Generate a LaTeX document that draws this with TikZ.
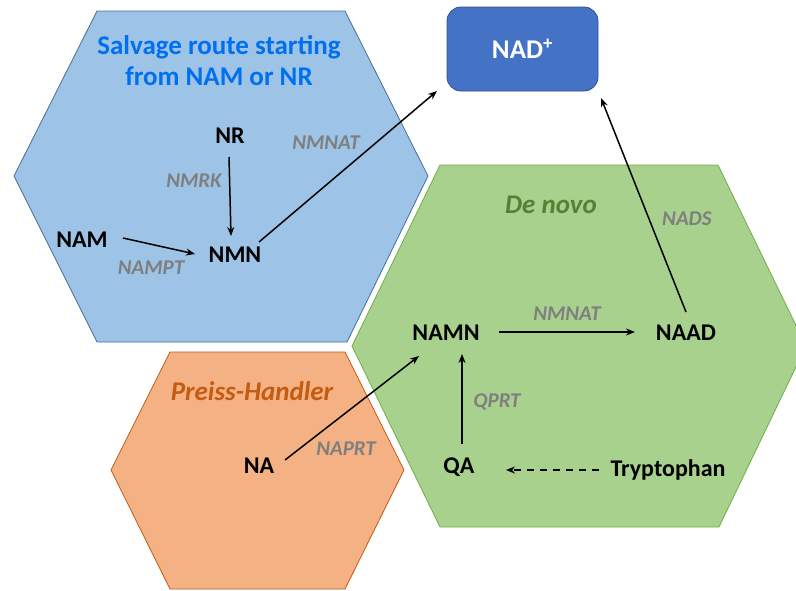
\documentclass[tikz,border=0pt]{standalone}
\usepackage{fontspec}
\setmainfont{Carlito}
\usetikzlibrary{arrows.meta}
\definecolor{bluefill}{HTML}{9DC3E6}
\definecolor{bluedraw}{HTML}{41719C}
\definecolor{greenfill}{HTML}{A9D18E}
\definecolor{greendraw}{HTML}{70AD47}
\definecolor{orangefill}{HTML}{F4B183}
\definecolor{orangedraw}{HTML}{C55A11}
\definecolor{nadfill}{HTML}{4472C4}
\definecolor{naddraw}{HTML}{2F528F}
\definecolor{titleblue}{HTML}{0070F0}
\definecolor{titlegreen}{HTML}{548235}
\definecolor{titleorange}{HTML}{C55A11}
\definecolor{enzgray}{HTML}{7F7F7F}
\begin{document}
\begin{tikzpicture}[x=1pt,y=-1pt,
  mol/.style={font=\fontsize{24}{26}\selectfont\bfseries, text=black, inner sep=1pt},
  enz/.style={font=\fontsize{21}{24}\selectfont\bfseries\itshape, text=enzgray, inner sep=1pt},
  conn/.style={-{Stealth[length=9pt,width=7pt]}, line width=1.5pt},
  hexline/.style={line width=0.8pt}]
\useasboundingbox (0,0) rectangle (796,590);
\clip (0,0) rectangle (796,590);
% hexagons
\draw[hexline, fill=bluefill, draw=bluedraw] (97,11) -- (345,11) -- (428,176) -- (347,342) -- (97,342) -- (14,176) -- cycle;
\draw[hexline, fill=greenfill, draw=greendraw] (440,165) -- (718,165) -- (806,346) -- (719,527) -- (440,527) -- (352,346) -- cycle;
\draw[hexline, fill=orangefill, draw=orangedraw] (170,352) -- (345,352) -- (404,470) -- (345,589) -- (170,589) -- (111,470) -- cycle;
% NAD+ box
\node[draw=naddraw, fill=nadfill, rounded corners=14pt, line width=0.8pt,
  minimum width=151pt, minimum height=84pt, text=white,
  font=\fontsize{27}{30}\selectfont\bfseries] (nad) at (522.5,49) {NAD\textsuperscript{+}};
% titles
\node[font=\fontsize{27}{31}\selectfont\bfseries, text=titleblue, align=center] (salv) at (219,61) {Salvage route starting\\from NAM or NR};
\node[font=\fontsize{27}{30}\selectfont\bfseries\itshape, text=titlegreen] (denovo) at (551,205) {De novo};
\node[font=\fontsize{27}{30}\selectfont\bfseries\itshape, text=titleorange] (ph) at (252,391) {Preiss-Handler};
% molecules
\node[mol] (nr) at (230,136) {NR};
\node[mol] (nam) at (82,240) {NAM};
\node[mol] (nmn) at (235,255) {NMN};
\node[mol] (namn) at (446,333) {NAMN};
\node[mol] (naad) at (686,333) {NAAD};
\node[mol] (qa) at (459,467) {QA};
\node[mol] (trp) at (668,470) {Tryptophan};
\node[mol] (na) at (259,466) {NA};
% enzymes
\node[enz] (nmrk) at (194,181) {NMRK};
\node[enz] (nampt) at (151,268) {NAMPT};
\node[enz] (nmnat1) at (326,143) {NMNAT};
\node[enz] (nads) at (687,219) {NADS};
\node[enz] (nmnat2) at (567,314) {NMNAT};
\node[enz] (qprt) at (497,402) {QPRT};
\node[enz] (naprt) at (346,449) {NAPRT};
% connector end points
\coordinate (c1) at (123,238); \coordinate (c1e) at (195,254);
\coordinate (c2) at (229,157); \coordinate (c2e) at (231,236);
\coordinate (c3) at (259,242); \coordinate (c3e) at (437,91);
\coordinate (c4) at (686,312); \coordinate (c4e) at (601,98);
\coordinate (c5) at (499,332); \coordinate (c5e) at (635,332);
\coordinate (c6) at (462,444); \coordinate (c6e) at (462,354);
\coordinate (c7) at (599,470); \coordinate (c7e) at (506,470);
\coordinate (c8) at (285,460); \coordinate (c8e) at (419,356);
\draw[conn] (c1) -- (c1e);
\draw[conn] (c2) -- (c2e);
\draw[conn] (c3) -- (c3e);
\draw[conn] (c4) -- (c4e);
\draw[conn] (c5) -- (c5e);
\draw[conn] (c6) -- (c6e);
\draw[conn, dash pattern=on 7pt off 6pt] (c7) -- (c7e);
\draw[conn] (c8) -- (c8e);
\end{tikzpicture}
\end{document}
